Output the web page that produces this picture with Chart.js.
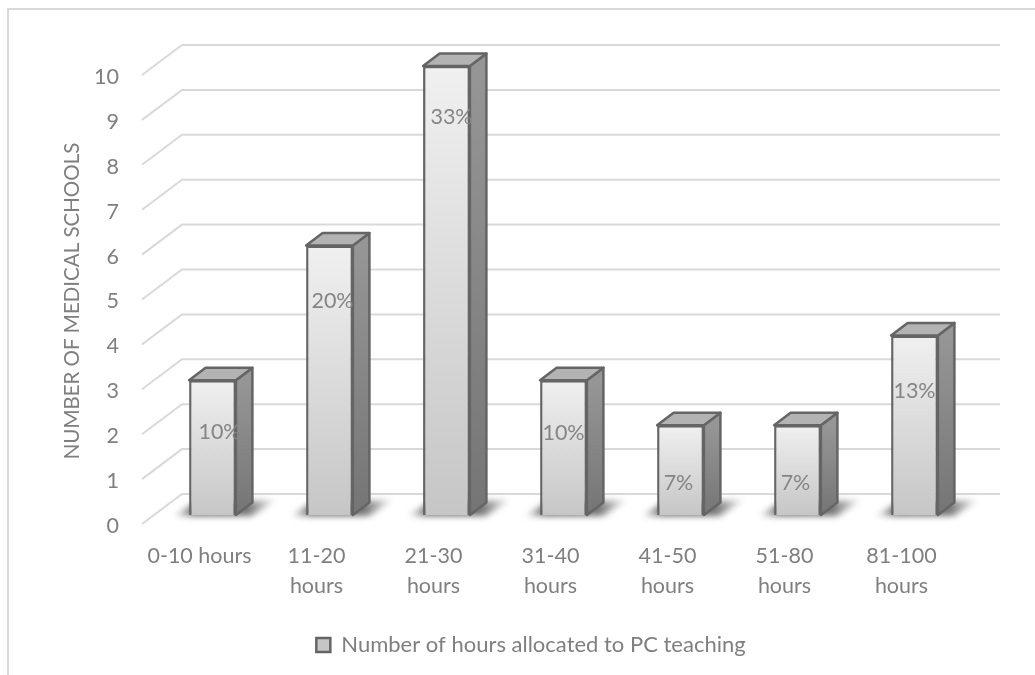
<!DOCTYPE html>
<html>
<head>
<meta charset="utf-8">
<title>PC teaching hours</title>
<script src="https://cdn.jsdelivr.net/npm/chart.js@4/dist/chart.umd.min.js"></script>
<style>
  html, body { margin: 0; padding: 0; background: #fff; }
  canvas { display: block; }
</style>
</head>
<body>
<canvas id="chart" width="1035" height="675"></canvas>
<script>
const categories = [['0-10 hours'], ['11-20', 'hours'], ['21-30', 'hours'], ['31-40', 'hours'], ['41-50', 'hours'], ['51-80', 'hours'], ['81-100', 'hours']]
const schools = [3, 6, 10, 3, 2, 2, 4]
const percents = ['10%', '20%', '33%', '10%', '7%', '7%', '13%']
const yTicks = [0, 1, 2, 3, 4, 5, 6, 7, 8, 9, 10]
const seriesName = 'Number of hours allocated to PC teaching'
const yTitle = 'NUMBER OF MEDICAL SCHOOLS'

const GREY = '#7f7f7f'
const EDGE = '#656565'
const FONT = 'Lato'
// how far each % label sits from its bar (placed by hand in the original)
const labelDrop = [51.5, 55, 51, 53, 57.5, 57.5, 56]
const labelShift = [7, 3, 5, 0, -2, -2, 0]

// fake 3D, Chart.js has no 3D bars so side/top/floor are drawn around the real bars
const depth3d = {
  id: 'depth3d',
  beforeDatasetsDraw(chart) {
    const { ctx, scales: { y } } = chart
    const right = chart.chartArea.right

    ctx.save()
    ctx.strokeStyle = '#d9d9d9'
    ctx.lineWidth = 2
    yTicks.forEach(v => {
      const py = y.getPixelForValue(v)
      ctx.beginPath()
      ctx.moveTo(142, py + 9)
      ctx.lineTo(182, py - 21)
      ctx.lineTo(right + 27, py - 21)
      ctx.stroke()
    })
    ctx.restore()

    const bars = chart.getDatasetMeta(0).data
    bars.forEach(b => {
      const l = b.x - b.width / 2, r = b.x + b.width / 2, top = b.y, base = b.base

      ctx.save()
      ctx.filter = 'blur(3px)'
      const sh = ctx.createLinearGradient(l - 16, 0, r + 42, 0)
      sh.addColorStop(0, 'rgba(0,0,0,0.02)')
      sh.addColorStop(0.2, 'rgba(0,0,0,0.6)')
      sh.addColorStop(0.7, 'rgba(0,0,0,0.55)')
      sh.addColorStop(1, 'rgba(0,0,0,0.02)')
      ctx.fillStyle = sh
      ctx.beginPath()
      ctx.moveTo(l - 16, base + 1)
      ctx.lineTo(l + 6, base - 12)
      ctx.lineTo(r + 40, base - 15)
      ctx.lineTo(r + 16, base + 1)
      ctx.closePath()
      ctx.fill()
      ctx.restore()

      ctx.save()
      ctx.strokeStyle = EDGE
      ctx.lineWidth = 2.5
      ctx.lineJoin = 'round'

      const side = ctx.createLinearGradient(0, top, 0, base)
      side.addColorStop(0, '#969696')
      side.addColorStop(1, '#757575')
      ctx.fillStyle = side
      ctx.beginPath()
      ctx.moveTo(r, top)
      ctx.lineTo(r + 16.5, top - 12.5)
      ctx.lineTo(r + 16.5, base - 12.5)
      ctx.lineTo(r, base)
      ctx.closePath()
      ctx.fill()
      ctx.stroke()

      ctx.fillStyle = '#b3b3b3'
      ctx.beginPath()
      ctx.moveTo(l, top)
      ctx.lineTo(l + 16.5, top - 12.5)
      ctx.lineTo(r + 16.5, top - 12.5)
      ctx.lineTo(r, top)
      ctx.closePath()
      ctx.fill()
      ctx.stroke()
      ctx.restore()
    })
  },
  afterDatasetsDraw(chart) {
    const { ctx } = chart
    ctx.save()
    ctx.fillStyle = '#858585'
    ctx.font = '21.5px ' + FONT
    ctx.textAlign = 'center'
    ctx.textBaseline = 'middle'
    chart.getDatasetMeta(0).data.forEach((b, i) => {
      ctx.fillText(percents[i], b.x + labelShift[i], b.y + labelDrop[i])
    })
    ctx.restore()

    // axis title sits lower than the scale's own title would
    ctx.save()
    ctx.translate(72, 301)
    ctx.rotate(-Math.PI / 2)
    ctx.fillStyle = GREY
    ctx.font = '20.5px ' + FONT
    ctx.textAlign = 'center'
    ctx.textBaseline = 'middle'
    ctx.fillText(yTitle, 0, 0)
    ctx.restore()
  },
  beforeDraw(chart) {
    const { ctx } = chart
    ctx.save()
    ctx.fillStyle = '#fff'
    ctx.fillRect(0, 0, chart.width, chart.height)
    ctx.strokeStyle = '#d9d9d9'
    ctx.lineWidth = 2
    ctx.beginPath()
    ctx.moveTo(8, chart.height)
    ctx.lineTo(8, 9)
    ctx.lineTo(chart.width, 9)
    ctx.stroke()
    ctx.restore()
  }
}

new Chart(document.getElementById('chart'), {
  type: 'bar',
  data: {
    labels: categories,
    datasets: [{
      label: seriesName,
      data: schools,
      barPercentage: 0.4,
      categoryPercentage: 1,
      borderColor: EDGE,
      borderWidth: 2.5,
      backgroundColor: c => {
        if (c.type !== 'data') return '#e0e0e0'
        const y = c.chart.scales.y
        const y0 = y ? y.getPixelForValue(c.raw) : NaN
        const y1 = y ? y.getPixelForValue(0) : NaN
        // not laid out yet on the first pass
        if (!isFinite(y0) || !isFinite(y1)) return '#e0e0e0'
        const g = c.chart.ctx.createLinearGradient(0, y0, 0, y1)
        g.addColorStop(0, '#f0f0f0')
        g.addColorStop(1, '#c6c6c6')
        return g
      }
    }]
  },
  options: {
    responsive: false,
    animation: false,
    devicePixelRatio: 1,
    layout: { padding: { left: 89, right: 62, top: 66, bottom: 9 } },
    plugins: {
      tooltip: { enabled: false },
      legend: {
        position: 'bottom',
        labels: { color: GREY, boxWidth: 14, boxHeight: 14, padding: 10, font: { family: FONT, size: 22 } }
      }
    },
    scales: {
      x: {
        grid: { display: false, drawTicks: false },
        border: { display: false },
        afterFit: s => { s.height = 109 },
        ticks: { color: GREY, padding: 26, labelOffset: -13, maxRotation: 0, minRotation: 0, font: { family: FONT, size: 21.5, lineHeight: 1.4 } }
      },
      y: {
        min: 0,
        max: 10,
        grid: { display: false, drawTicks: false },
        border: { display: false },
        afterFit: s => { s.width = 65 },
        ticks: { color: GREY, padding: 35, stepSize: 1, labelOffset: 11, font: { family: FONT, size: 21.5 } }
      }
    }
  },
  plugins: [depth3d]
})
</script>
</body>
</html>
